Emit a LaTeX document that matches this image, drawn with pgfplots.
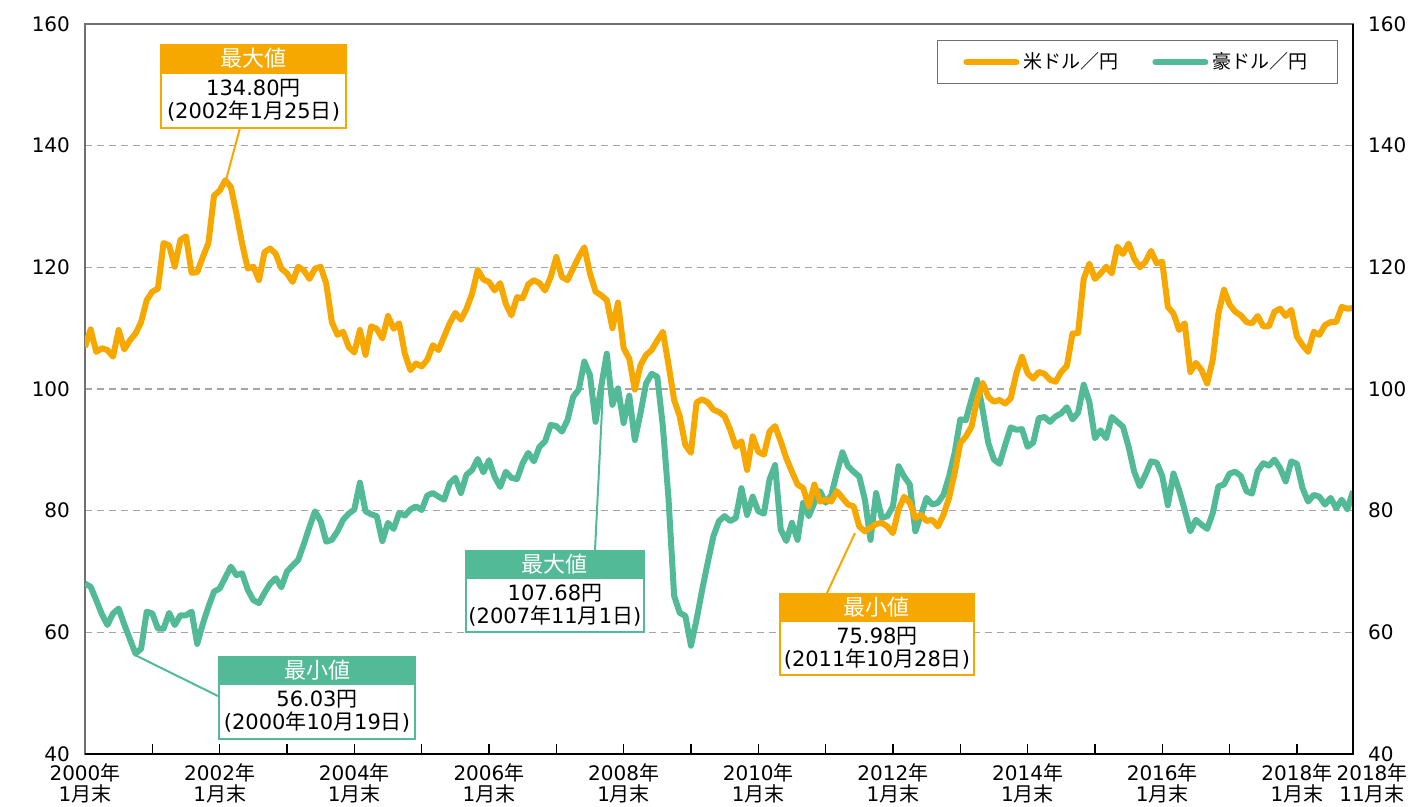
\documentclass[border=0pt]{standalone}
\usepackage{fontspec}
\setmainfont{DejaVu Sans}
\newfontfamily\cjk{Noto Sans CJK JP}
\usepackage{pgfplots}
\pgfplotsset{compat=1.18}
\usepackage{pgfplotstable}
\definecolor{usdc}{RGB}{247,168,0}
\definecolor{audc}{RGB}{82,186,151}
\definecolor{gridc}{RGB}{165,165,165}
\definecolor{framec}{RGB}{112,112,112}
\newcommand{\J}[1]{{\cjk #1}}

\pgfplotstableread{
idx usd aud
0 106.9 68.0
1 109.8 67.5
2 106.1 65.3
3 106.7 63.0
4 106.4 61.2
5 105.3 63.1
6 109.7 63.9
7 106.5 61.3
8 108.0 58.9
9 109.1 56.5
10 111.0 57.3
11 114.6 63.4
12 116.0 63.1
13 116.5 60.6
14 124.0 60.6
15 123.6 63.2
16 120.1 61.2
17 124.5 62.8
18 125.1 62.8
19 119.1 63.4
20 119.2 58.1
21 121.7 61.4
22 124.0 64.2
23 131.8 66.7
24 132.6 67.2
25 134.3 69.0
26 133.2 70.8
27 128.8 69.4
28 123.9 69.7
29 119.8 67.0
30 120.1 65.3
31 117.9 64.8
32 122.5 66.5
33 123.1 68.0
34 122.2 68.9
35 119.8 67.4
36 119.0 70.0
37 117.6 71.0
38 120.1 71.9
39 119.5 74.5
40 118.1 77.3
41 119.8 79.9
42 120.1 78.3
43 117.3 74.9
44 111.0 75.2
45 108.9 76.6
46 109.4 78.5
47 106.9 79.5
48 106.0 80.2
49 109.7 84.6
50 105.6 79.9
51 110.3 79.4
52 109.9 79.1
53 108.3 75.0
54 112.0 78.0
55 109.9 77.0
56 110.8 79.6
57 105.8 79.2
58 103.1 80.2
59 104.2 80.7
60 103.7 80.1
61 104.8 82.5
62 107.2 82.9
63 106.4 82.3
64 108.6 81.8
65 110.8 84.5
66 112.5 85.4
67 111.4 82.9
68 113.2 85.9
69 115.7 86.7
70 119.6 88.5
71 118.0 86.3
72 117.6 88.3
73 116.2 85.6
74 117.4 83.9
75 114.0 86.4
76 112.1 85.4
77 115.1 85.2
78 114.9 87.8
79 117.2 89.5
80 117.9 88.1
81 117.4 90.5
82 116.2 91.4
83 118.4 94.1
84 121.7 93.9
85 118.4 93.0
86 117.9 94.9
87 119.8 98.7
88 121.7 99.9
89 123.3 104.5
90 119.0 102.3
91 116.0 94.6
92 115.4 100.4
93 114.6 105.8
94 110.0 97.4
95 114.2 100.1
96 106.7 94.4
97 105.0 98.9
98 99.9 91.6
99 103.9 96.0
100 105.6 100.9
101 106.4 102.5
102 108.0 102.0
103 109.4 93.8
104 104.0 82.0
105 98.2 66.0
106 95.5 63.2
107 90.8 62.7
108 89.5 57.8
109 97.8 62.1
110 98.3 67.0
111 97.8 71.5
112 96.6 75.8
113 96.2 78.3
114 95.5 79.1
115 93.3 78.3
116 90.5 78.8
117 91.4 83.7
118 86.7 79.3
119 92.2 82.3
120 89.7 79.9
121 89.2 79.5
122 93.0 85.1
123 93.9 87.5
124 91.4 76.9
125 88.6 75.0
126 86.4 78.0
127 84.3 75.2
128 83.7 81.3
129 80.7 79.1
130 84.3 81.3
131 81.5 83.2
132 81.8 81.3
133 81.5 82.5
134 83.2 86.2
135 82.1 89.6
136 81.0 87.3
137 80.7 86.4
138 77.4 85.6
139 76.6 81.8
140 77.2 75.2
141 77.8 82.9
142 78.0 78.8
143 77.4 79.1
144 76.3 80.7
145 80.2 87.3
146 82.3 85.6
147 81.3 84.3
148 78.8 76.6
149 79.3 79.3
150 78.3 82.1
151 78.5 81.0
152 77.4 81.3
153 79.3 82.6
154 82.1 85.6
155 86.2 89.5
156 91.1 95.0
157 92.2 94.9
158 93.8 98.3
159 98.2 101.5
160 101.0 96.5
161 98.7 91.1
162 97.9 88.4
163 98.2 87.7
164 97.6 90.8
165 98.5 93.7
166 102.6 93.3
167 105.3 93.4
168 102.6 90.5
169 101.7 91.2
170 102.8 95.2
171 102.5 95.4
172 101.5 94.6
173 101.2 95.5
174 102.8 96.0
175 103.8 97.0
176 109.1 95.0
177 109.2 96.1
178 118.1 100.7
179 120.6 97.9
180 118.1 91.9
181 119.0 93.2
182 120.1 91.9
183 119.0 95.4
184 123.4 94.6
185 122.2 93.8
186 123.9 90.5
187 121.4 86.4
188 120.0 84.0
189 120.9 85.9
190 122.7 88.1
191 120.7 87.9
192 120.9 85.7
193 113.5 80.9
194 112.4 86.1
195 109.7 83.4
196 110.8 80.1
197 102.8 76.6
198 104.3 78.5
199 103.1 77.7
200 100.9 77.0
201 104.8 79.6
202 112.4 84.0
203 116.3 84.3
204 113.9 86.1
205 112.7 86.4
206 112.1 85.7
207 111.0 83.2
208 110.8 82.8
209 112.0 86.5
210 110.3 87.8
211 110.3 87.4
212 112.7 88.4
213 113.2 87.0
214 112.0 84.8
215 113.0 88.1
216 108.6 87.7
217 107.2 83.7
218 106.1 81.5
219 109.4 82.6
220 108.9 82.3
221 110.5 81.0
222 111.0 82.1
223 111.0 80.4
224 113.5 81.8
225 113.2 80.2
226 113.3 83.2
}\fx

\begin{document}
\begin{tikzpicture}
\useasboundingbox (-42.5pt,-26.5pt) rectangle (666.5pt,377pt);
\begin{axis}[
  scale only axis, width=634pt, height=365pt,
  xmin=0, xmax=226, ymin=40, ymax=160,
  clip mode=individual,
  axis line style={draw=framec, line width=0.8pt},
  ytick={40,60,...,160},
  ytick style={draw=none},
  ymajorgrids,
  major grid style={draw=gridc, line width=0.6pt, dash pattern=on 3.5pt off 2.5pt},
  yticklabel style={font=\fontsize{10}{12}\selectfont, xshift=-4pt},
  /pgf/number format/assume math mode=true,
  xtick={0,12,...,216},
  xtick pos=bottom,
  tick align=inside,
  major tick length=5pt,
  xtick style={draw=black, line width=0.6pt},
  xticklabels={{2000\J{年}\\1\J{月末}},{},{2002\J{年}\\1\J{月末}},{},{2004\J{年}\\1\J{月末}},{},{2006\J{年}\\1\J{月末}},{},{2008\J{年}\\1\J{月末}},{},{2010\J{年}\\1\J{月末}},{},{2012\J{年}\\1\J{月末}},{},{2014\J{年}\\1\J{月末}},{},{2016\J{年}\\1\J{月末}},{},{2018\J{年}\\1\J{月末}}},
  xticklabel style={align=center, font=\fontsize{10}{10.5}\selectfont, yshift=-1.5pt},
  extra x ticks={226},
  extra x tick labels={{2018\J{年}\\11\J{月末}}},
  extra x tick style={tick style={draw=none}, xticklabel style={xshift=9.5pt}},
  legend columns=2,
  legend cell align=left,
  legend style={at={(1,1)}, anchor=north east, xshift=-7.5pt, yshift=-8pt,
    draw=framec, line width=0.6pt, fill=white,
    font=\cjk\fontsize{9.5}{11}\selectfont,
    inner xsep=13pt, inner ysep=4pt,
    /tikz/every even column/.append style={column sep=15pt}},
  legend image code/.code={\draw[#1] (0pt,0pt) -- (25pt,0pt);},
]
\addlegendimage{usdc, line width=3pt, line cap=round}
\addlegendentry{米ドル／円}
\addlegendimage{audc, line width=3pt, line cap=round}
\addlegendentry{豪ドル／円}

\addplot[audc, line width=3pt, line join=round, forget plot] table[x=idx, y=aud] {\fx};
\addplot[usdc, line width=3pt, line join=round, forget plot] table[x=idx, y=usd] {\fx};

\draw[black, line width=0.8pt] (rel axis cs:0,0) -- (rel axis cs:1,0) -- (rel axis cs:1,1);

% leader lines
\draw[usdc, line width=1pt] (axis cs:27.62,142.9) -- (axis cs:25.13,134.35);
\draw[audc, line width=1pt] (axis cs:90.9,73.53) -- (axis cs:92.6,105.0);
\draw[usdc, line width=1pt] (axis cs:132.24,66.46) -- (axis cs:137.23,76.3);
\draw[audc, line width=1pt] (axis cs:23.70,49.53) -- (axis cs:8.91,56.27);

% orange max
\node[fill=usdc, text=white, minimum width=93.5pt, minimum height=14pt, inner sep=0pt, anchor=north, font=\cjk\fontsize{11}{12}\selectfont] (h1) at (axis cs:30.03,156.71) {最大値};
\node[draw=usdc, line width=1pt, fill=white, minimum width=92.5pt, minimum height=27.5pt, inner sep=0pt, anchor=north, align=center, font=\fontsize{10.5}{11.5}\selectfont] at ([yshift=0.5pt]h1.south) {134.80\J{円}\\(2002\J{年}1\J{月}25\J{日})};

% green max
\node[fill=audc, text=white, minimum width=90pt, minimum height=13.5pt, inner sep=0pt, anchor=north, font=\cjk\fontsize{11}{12}\selectfont] (h2) at (axis cs:83.76,73.53) {最大値};
\node[draw=audc, line width=1pt, fill=white, minimum width=89pt, minimum height=27pt, inner sep=0pt, anchor=north, align=center, font=\fontsize{10.5}{11.5}\selectfont] at ([yshift=0.5pt]h2.south) {107.68\J{円}\\(2007\J{年}11\J{月}1\J{日})};

% orange min
\node[fill=usdc, text=white, minimum width=98pt, minimum height=13.5pt, inner sep=0pt, anchor=north, font=\cjk\fontsize{11}{12}\selectfont] (h3) at (axis cs:141.15,66.46) {最小値};
\node[draw=usdc, line width=1pt, fill=white, minimum width=97pt, minimum height=27pt, inner sep=0pt, anchor=north, align=center, font=\fontsize{10.5}{11.5}\selectfont] at ([yshift=0.5pt]h3.south) {75.98\J{円}\\(2011\J{年}10\J{月}28\J{日})};

% green min
\node[fill=audc, text=white, minimum width=99pt, minimum height=13.5pt, inner sep=0pt, anchor=north, font=\cjk\fontsize{11}{12}\selectfont] (h4) at (axis cs:41.35,56.10) {最小値};
\node[draw=audc, line width=1pt, fill=white, minimum width=98pt, minimum height=27.5pt, inner sep=0pt, anchor=north, align=center, font=\fontsize{10.5}{11.5}\selectfont] at ([yshift=0.5pt]h4.south) {56.03\J{円}\\(2000\J{年}10\J{月}19\J{日})};
\end{axis}

\begin{axis}[
  scale only axis, width=634pt, height=365pt,
  xmin=0, xmax=226, ymin=40, ymax=160,
  hide x axis,
  axis y line*=right,
  y axis line style={draw=none},
  ytick={40,60,...,160},
  ytick style={draw=none},
  yticklabel style={font=\fontsize{10}{12}\selectfont, xshift=4pt},
  /pgf/number format/assume math mode=true,
]
\addplot[draw=none, forget plot] coordinates {(0,100)};
\end{axis}
\end{tikzpicture}
\end{document}
